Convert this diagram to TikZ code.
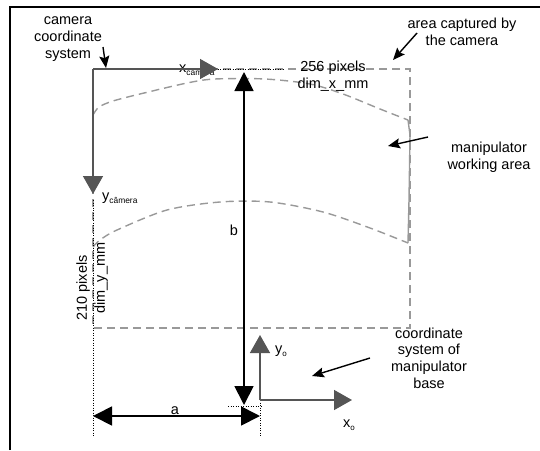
\documentclass[tikz,border=0pt]{standalone}
\usepackage{fontspec}
\setmainfont{Liberation Sans}
\usetikzlibrary{arrows.meta}
\definecolor{axisgray}{HTML}{555555}
\definecolor{areagray}{HTML}{999999}
\begin{document}
\begin{tikzpicture}[x=1pt,y=-1pt,
  lbl/.style={font=\fontsize{14.5}{16.7}\selectfont, align=center, inner sep=0pt},
  sub/.style={font=\fontsize{14.5}{16.7}\selectfont, inner sep=0pt},
  axis/.style={draw=axisgray, line width=1.5pt, -{Triangle[length=18pt,width=20pt]}},
  dimarrow/.style={draw=black, line width=1.8pt, {Triangle[length=19pt,width=19pt]}-{Triangle[length=19pt,width=19pt]}},
  callout/.style={draw=black, line width=1.4pt, -{Stealth[length=12pt,width=10pt,inset=2pt]}},
  area/.style={draw=areagray, line width=1.4pt, dash pattern=on 8pt off 5pt},
  ext/.style={draw=black, line width=1pt, dash pattern=on 1pt off 1.5pt}]
\useasboundingbox (0,0) rectangle (540,450);

% frame (top and left only)
\draw[line width=1.8pt] (10,450) -- (10,7) -- (540,7);

% area captured by the camera
\draw[area] (93,69) rectangle (410,328);

% manipulator working area
\draw[area] plot[smooth, tension=0.5] coordinates {(93,115) (99,107) (113,101) (140,94) (187,83) (215,79) (265,79) (310,84) (343,94) (380,109) (408,120)};
\draw[area] plot[smooth, tension=0.5] coordinates {(93,247) (100,240) (117,230) (167,210) (220,202) (270,202) (323,212) (370,228) (408,243)};
\draw[draw=areagray, line width=1.4pt] (408,120) -- (410,135) -- (409,200) -- (408,243);

% extension lines
\coordinate (e1) at (93,200);
\coordinate (e2) at (93,437);
\coordinate (e3) at (260,400);
\coordinate (e4) at (260,437);
\coordinate (e5) at (200,69);
\coordinate (e6) at (285,69);
\coordinate (e7) at (228,406);
\coordinate (e8) at (262,406);
\draw[ext] (e1) -- (e2);
\draw[ext] (e3) -- (e4);
\draw[ext] (e5) -- (e6);
\draw[ext] (e7) -- (e8);

% camera coordinate system
\node[sub, anchor=base west] (xcam) at (179,72) {x\raisebox{-3pt}{\fontsize{8.4}{9}\selectfont câmera}};
\node[sub, anchor=base west] (ycam) at (102,200) {y\raisebox{-3pt}{\fontsize{8.4}{9}\selectfont câmera}};
\coordinate (C) at (93,69);
\coordinate (Cx) at (218,69);
\coordinate (Cy) at (93,194);
\draw[axis] (C) -- (Cx);
\draw[axis] (C) -- (Cy);

% base coordinate system
\node[sub, anchor=base west] (yo) at (275,353) {y\raisebox{-3pt}{\fontsize{8}{9}\selectfont o}};
\node[sub, anchor=base west] (xo) at (343,427) {x\raisebox{-3pt}{\fontsize{8}{9}\selectfont o}};
\coordinate (B) at (260,400);
\coordinate (Bx) at (352,400);
\coordinate (By) at (260,335);
\draw[axis] (B) -- (Bx);
\draw[axis] (B) -- (By);

% dimension b
\node[sub] (blbl) at (234,230) {b};
\coordinate (b1) at (244,405);
\coordinate (b2) at (244,72);
\draw[dimarrow] (b1) -- (b2);

% dimension a
\node[sub] (albl) at (175,411) {a};
\coordinate (a1) at (93,416);
\coordinate (a2) at (260,416);
\draw[dimarrow] (a1) -- (a2);

% labels
\node[lbl] (camlbl) at (68,39) {camera\\coordinate\\system};
\node[lbl] (arealbl) at (462,32) {area captured by\\the camera};
\node[lbl] (worklbl) at (489,157) {manipulator\\working area};
\node[lbl] (baselbl) at (429,358) {coordinate\\system of\\manipulator\\base};
\node[lbl] (xdim) at (333,76) {256 pixels\\dim\_x\_mm};
\node[sub, rotate=90] (ydim1) at (83,288) {210 pixels};
\node[sub, rotate=90] (ydim2) at (101,278) {dim\_y\_mm};

% callout arrows
\coordinate (camA) at (103,47);
\coordinate (camB) at (106,68);
\draw[callout] (camA) -- (camB);
\coordinate (areaA) at (417,33);
\coordinate (areaB) at (393,60);
\draw[callout] (areaA) -- (areaB);
\coordinate (workA) at (428,137);
\coordinate (workB) at (388,146);
\draw[callout] (workA) -- (workB);
\coordinate (baseA) at (370,358);
\coordinate (baseB) at (312,376);
\draw[callout] (baseA) -- (baseB);
\end{tikzpicture}
\end{document}
